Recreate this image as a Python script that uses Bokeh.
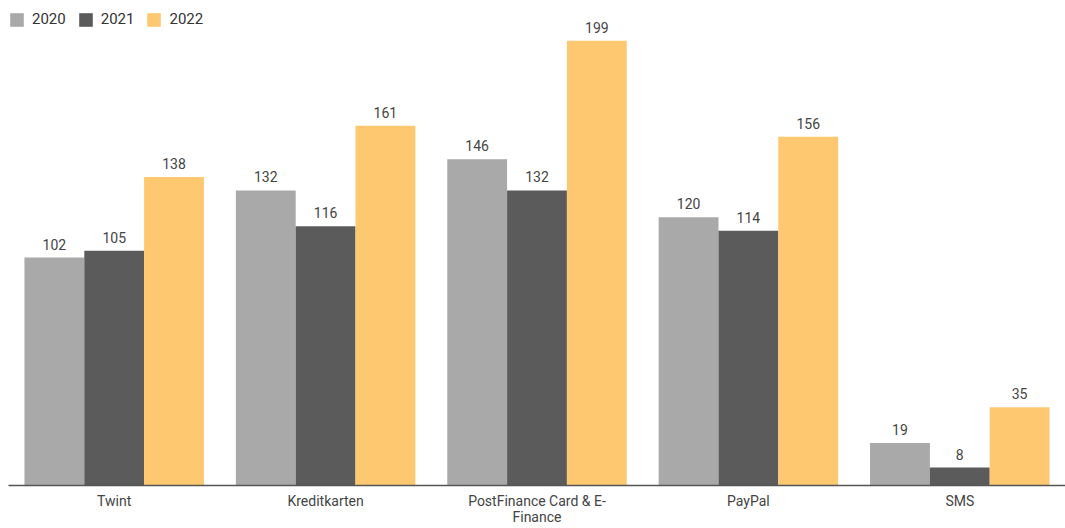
from bokeh.plotting import figure
from bokeh.models import ColumnDataSource, FactorRange, Legend, LegendItem, LabelSet
from bokeh.transform import dodge
from bokeh.core.properties import value
from bokeh.embed import file_html
from bokeh.resources import INLINE

categories = ["Twint", "Kreditkarten", "PostFinance Card & E-\nFinance", "PayPal", "SMS"]
years = ["2020", "2021", "2022"]
v2020 = [102, 132, 146, 120, 19]
v2021 = [105, 116, 132, 114, 8]
v2022 = [138, 161, 199, 156, 35]
colors = ["#A9A9A9", "#5B5B5B", "#FDC86F"]

src = ColumnDataSource(dict(cat=categories, y2020=v2020, y2021=v2021, y2022=v2022,
                            l2020=[str(v) for v in v2020], l2021=[str(v) for v in v2021],
                            l2022=[str(v) for v in v2022]))

p = figure(width=1065, height=528, x_range=FactorRange(*categories, range_padding=0),
           y_range=(0, 217), output_backend="svg", toolbar_location=None,
           min_border_left=8, min_border_right=0, min_border_top=0, min_border_bottom=41)

bw = 0.283
offsets = [-bw, 0, bw]
items = []
for yr, col, off in zip(years, colors, offsets):
    r = p.vbar(x=dodge("cat", off, range=p.x_range), top="y" + yr, width=bw, source=src,
               fill_color=col, line_color=None)
    items.append(LegendItem(label=yr, renderers=[r]))
    lab = LabelSet(x=dodge("cat", off, range=p.x_range), y="y" + yr, text="l" + yr, source=src,
                   text_align="center", text_baseline="bottom", y_offset=8,
                   text_font=value("Roboto"), text_font_size="14px", text_color="#444444")
    p.add_layout(lab)

legend = Legend(items=items, orientation="horizontal", location=(0, 457),
                glyph_width=17, glyph_height=17, label_text_font="Roboto",
                label_text_font_size="15px", label_text_color="#333333",
                background_fill_alpha=0, border_line_alpha=0, padding=0, margin=0,
                spacing=11, label_standoff=7)
p.add_layout(legend, "center")

p.yaxis.visible = False
p.xgrid.visible = False
p.ygrid.visible = False
p.outline_line_color = None
p.xaxis.axis_line_color = "#555555"
p.xaxis.axis_line_width = 1.5
p.xaxis.major_tick_line_color = None
p.xaxis.minor_tick_line_color = None
p.xaxis.major_tick_out = 0
p.xaxis.major_tick_in = 0
p.xaxis.major_label_standoff = 7
p.xaxis.major_label_text_line_height = 1.05
p.xaxis.major_label_text_font = "Roboto"
p.xaxis.major_label_text_font_size = "14px"
p.xaxis.major_label_text_color = "#444444"

open("out.html", "w").write(file_html(p, INLINE))
